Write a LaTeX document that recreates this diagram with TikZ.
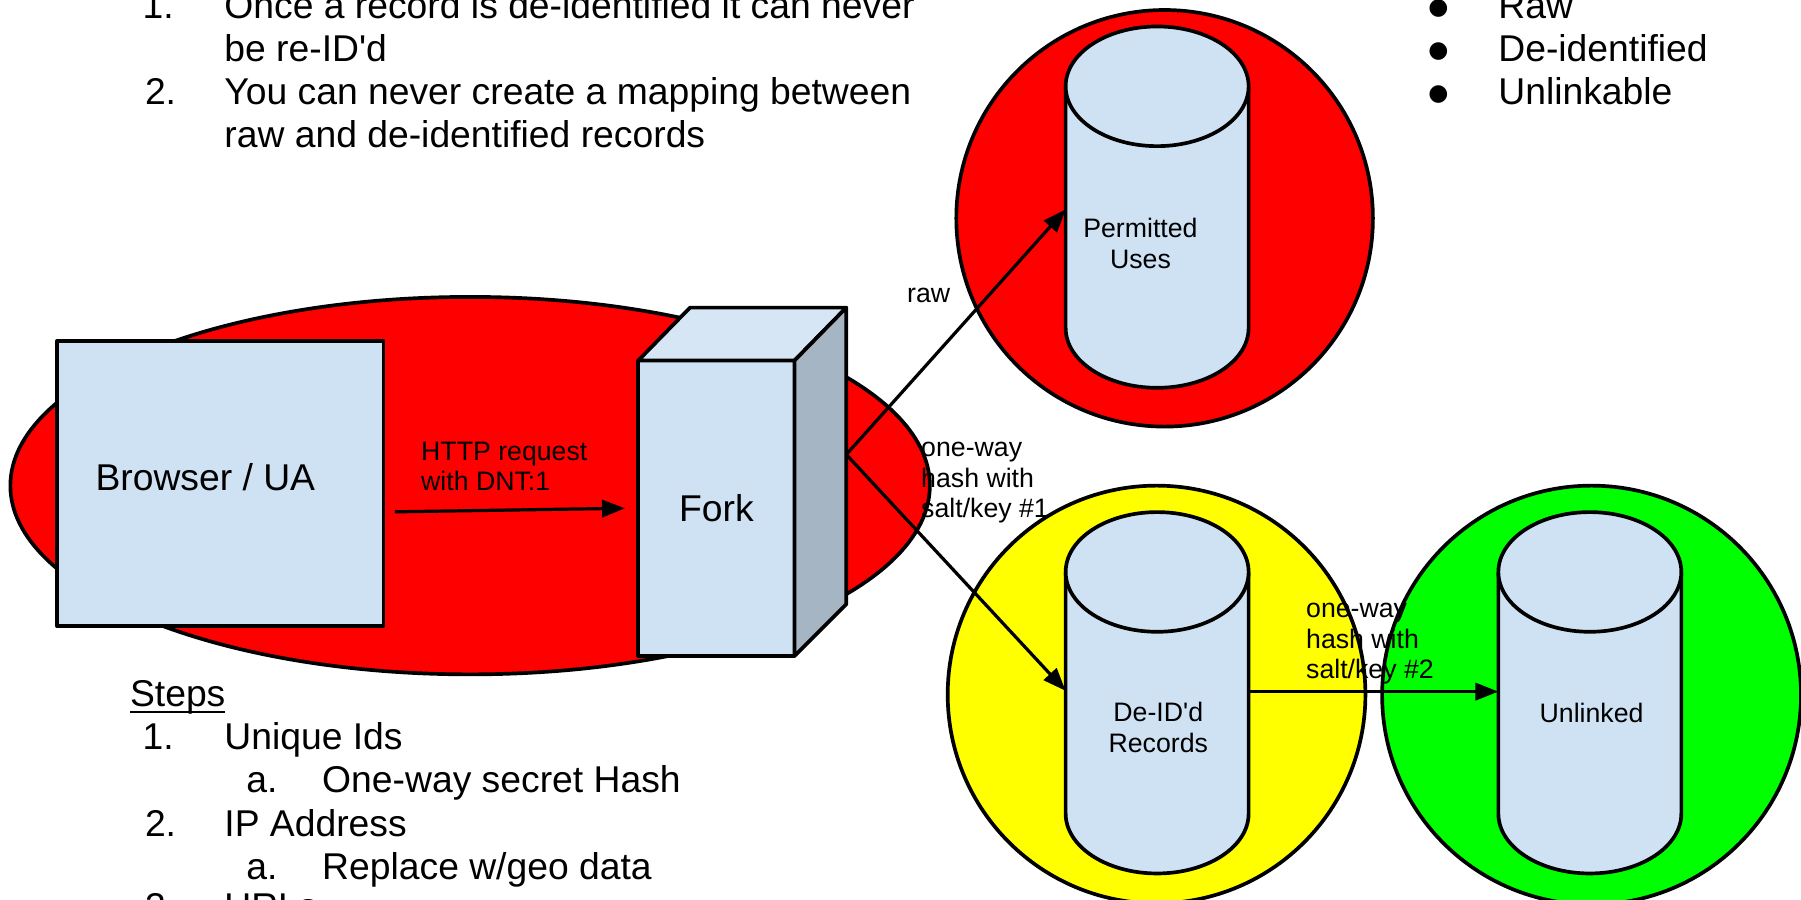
\documentclass[tikz,border=0pt]{standalone}
\usepackage{fontspec}
\setmainfont{Liberation Sans}
\newfontfamily\dejavu{DejaVu Sans}
\usetikzlibrary{arrows.meta}
\definecolor{boxblue}{HTML}{CFE2F3}
\definecolor{boxtop}{HTML}{D6E6F5}
\definecolor{boxside}{HTML}{A5B5C4}
\definecolor{zonered}{HTML}{FF0000}
\definecolor{zoneyellow}{HTML}{FFFF00}
\definecolor{zonegreen}{HTML}{00FF00}
\newcommand\dbcylinder[1]{%
  \fill[boxblue] (#1.north west) -- (#1.south west) arc[start angle=180,end angle=360,x radius=79.5,y radius=52] -- (#1.north east) -- cycle;
  \draw[outl] (#1.north west) -- (#1.south west) arc[start angle=180,end angle=360,x radius=79.5,y radius=52] -- (#1.north east);
  \draw[outl,fill=boxblue] (#1.north) ellipse[x radius=79.5,y radius=52];
}
\begin{document}
\begin{tikzpicture}[x=1pt,y=1pt,
  outl/.style={line width=3.2pt,line join=round},
  conn/.style={line width=2.8pt,-{Triangle[length=20pt,width=15pt]}},
  bigtxt/.style={font=\fontsize{32.4}{37.5}\selectfont,inner sep=0,outer sep=0,anchor=base west},
  smalltxt/.style={font=\fontsize{23.2}{26.5}\selectfont,inner sep=0,outer sep=0,anchor=base west},
  smallc/.style={smalltxt,anchor=base},
  cylbody/.style={minimum width=159pt,minimum height=210pt,inner sep=0,outer sep=0},
  boxnode/.style={draw,outl,fill=boxblue,inner sep=0,outer sep=0},
  bulletmark/.style={font=\dejavu\fontsize{20}{20}\selectfont,inner sep=0,outer sep=0}
]
\useasboundingbox (0,0) rectangle (1565,-781.2);

% zone fills
\coordinate (rawzone) at (408.5,-422);
\coordinate (permzone) at (1012,-189.7);
\coordinate (deidzone) at (1005,-603.5);
\coordinate (unlzone) at (1383,-604);
\fill[zonered] (rawzone) ellipse[x radius=399.5,y radius=164];
\fill[zonered] (permzone) circle[radius=181];
\fill[zoneyellow] (deidzone) circle[radius=181.5];
\fill[zonegreen] (unlzone) circle[radius=182];

% labels lying under the zone outlines
\node[smalltxt] (h1a) at (800.5,-397) {one-way};
\node[smalltxt] (h1b) at (800.5,-423.5) {hash with};
\node[smalltxt] (h1c) at (800.5,-450) {salt/key \#1};
\node[smalltxt] (h2a) at (1135,-537) {one-way};
\node[smalltxt] (h2b) at (1135,-563.5) {hash with};
\node[smalltxt] (h2c) at (1135,-590) {salt/key \#2};

% zone outlines
\draw[outl] (rawzone) ellipse[x radius=399.5,y radius=164];
\draw[outl] (permzone) circle[radius=181];
\draw[outl] (deidzone) circle[radius=181.5];
\draw[outl] (unlzone) circle[radius=182];

% browser
\node[boxnode,minimum width=283.8pt,minimum height=247.5pt] (browser) at (191.3,-420.25) {};
\node[bigtxt] (browsertxt) at (83,-426) {Browser / UA};

% fork
\node[boxnode,minimum width=135.8pt,minimum height=256.7pt,font=\fontsize{32.4}{37.5}\selectfont] (fork) at (622.5,-441.65) {Fork};
\filldraw[outl,fill=boxtop] (fork.north west) -- ++(45,46) -- ++(135.8,0) -- (fork.north east) -- cycle;
\filldraw[outl,fill=boxside] (fork.north east) -- ++(45,46) -- ++(0,-257.7) -- (fork.south east) -- cycle;
\coordinate (forkout) at ([shift={(45,46.7)}]fork.east);

% databases
\node[cylbody] (perm) at (1005.5,-180) {};
\node[cylbody] (deid) at (1005.5,-602) {};
\node[cylbody] (unl) at (1381.5,-602) {};
\dbcylinder{perm}
\dbcylinder{deid}
\dbcylinder{unl}

% connectors
\draw[conn] ([shift={(10,-24.5)}]browser.east) -- ([xshift=-11.5]fork.west);
\draw[conn] (forkout) -- ([yshift=-2]perm.west);
\draw[conn] (forkout) -- ([yshift=1.7]deid.west);
\draw[conn] ([yshift=1]deid.east) -- ([yshift=1]unl.west);

% labels
\node[smalltxt] (http1) at (366,-400) {HTTP request};
\node[smalltxt] (http2) at (366,-426) {with DNT:1};
\node[smallc] (rawlbl) at (807,-262.5) {raw};
\node[smallc] (permt1) at (991,-206) {Permitted};
\node[smallc] (permt2) at (991,-233) {Uses};
\node[smallc] (deidt1) at (1006.5,-627) {De-ID{\textquotesingle}d};
\node[smallc] (deidt2) at (1006.5,-654) {Records};
\node[smallc] (unlt) at (1383,-628) {Unlinked};

% top-left rules
\node[bigtxt] (r1n) at (124,-16.3) {1.};
\node[bigtxt] (r1t) at (195,-16.3) {Once a record is de-identified it can never};
\node[bigtxt] (r1u) at (195,-53.6) {be re-ID{\textquotesingle}d};
\node[bigtxt] (r2n) at (126,-90.9) {2.};
\node[bigtxt] (r2t) at (195,-90.9) {You can never create a mapping between};
\node[bigtxt] (r2u) at (195,-128.2) {raw and de-identified records};

% top-right bullets
\node[bulletmark] (b1) at (1250,-7.3) {●};
\node[bulletmark] (b2) at (1250,-44.6) {●};
\node[bulletmark] (b3) at (1250,-81.9) {●};
\node[bigtxt] (k1) at (1302,-16.3) {Raw};
\node[bigtxt] (k2) at (1302,-53.6) {De-identified};
\node[bigtxt] (k3) at (1302,-90.9) {Unlinkable};

% steps
\node[bigtxt] (steps) at (113,-614) {Steps};
\draw[line width=2.2pt] ([yshift=-4.5]steps.base west) -- ([yshift=-4.5]steps.base east);
\node[bigtxt] (s1n) at (124,-651.5) {1.};
\node[bigtxt] (s1t) at (195,-651.5) {Unique Ids};
\node[bigtxt] (s1a) at (214,-689) {a.};
\node[bigtxt] (s1at) at (280,-689) {One-way secret Hash};
\node[bigtxt] (s2n) at (126,-726.5) {2.};
\node[bigtxt] (s2t) at (195,-726.5) {IP Address};
\node[bigtxt] (s2a) at (214,-764) {a.};
\node[bigtxt] (s2at) at (280,-764) {Replace w/geo data};
\node[bigtxt] (s3n) at (126,-799) {3.};
\node[bigtxt] (s3t) at (195,-799) {URLs};
\end{tikzpicture}
\end{document}
